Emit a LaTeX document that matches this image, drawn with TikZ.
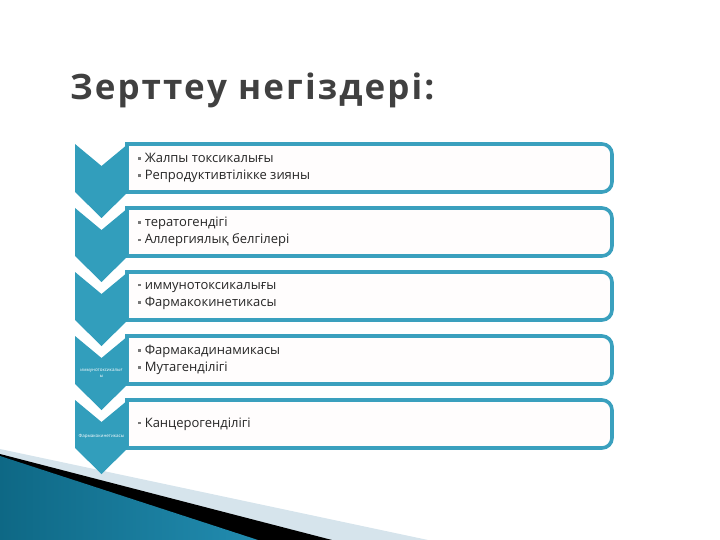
\documentclass[tikz,border=0pt]{standalone}
\usepackage{fontspec}
\setmainfont{Open Sans}
\newfontfamily\titlefont[LetterSpace=6]{Open Sans}
\definecolor{teal1}{RGB}{50,158,188}
\definecolor{teal2}{RGB}{58,160,190}
\definecolor{titlegray}{RGB}{64,64,64}
\definecolor{bulgray}{RGB}{120,120,120}
\definecolor{boxfill}{RGB}{255,253,253}
\definecolor{greyband}{RGB}{214,228,236}
\definecolor{bluedark}{RGB}{14,104,133}
\definecolor{bluemid}{RGB}{76,176,212}
\definecolor{blueright}{RGB}{34,140,176}
\newcommand\bul{\textcolor{bulgray}{\rule[2.8pt]{2.6pt}{2.6pt}}\hspace{4pt}}
\tikzset{
  chev/.style={fill=teal1},
  itembox/.style={draw=teal2, line width=3.6pt, fill=boxfill},
  itemtext/.style={anchor=west, align=left, inner sep=0pt, text=black!85,
    font=\fontsize{13}{17.5}\selectfont},
  chevtext/.style={text=white, align=center, inner sep=0pt,
    font=\fontsize{4.5}{6}\selectfont}
}
\begin{document}
\begin{tikzpicture}[x=1pt,y=-1pt]
\useasboundingbox (0,0) rectangle (720,540);
% bottom decoration
\fill[greyband] (0,449) -- (428,540) -- (0,540) -- cycle;
\fill[black] (0,454) -- (332,540) -- (0,540) -- cycle;
\shade[left color=bluedark, middle color=bluemid, right color=blueright]
  (0,456) -- (258,540) -- (0,540) -- cycle;
% title
\node[anchor=base west, inner sep=0pt, text=titlegray,
  font=\fontsize{35}{40}\selectfont\titlefont\bfseries] (title) at (70,100) {Зерттеу негіздері:};
% boxes
\foreach \T in {144,208,272,336,400}{
  \draw[itembox] (127,\T) -- (602,\T) .. controls (607.5,\T) and (612,\T+4.5) ..
    (612,\T+10) -- (612,\T+38) .. controls (612,\T+43.5) and (607.5,\T+48) ..
    (602,\T+48) -- (127,\T+48) -- cycle;
  \fill[chev] (75,\T) -- (101.5,\T+22) -- (128,\T) -- (128,\T+48) --
    (101.5,\T+74) -- (75,\T+48) -- cycle;
}
% texts
\node[itemtext] (b1) at (138,168) {\bul Жалпы токсикалығы\\\bul Репродуктивтілікке зияны};
\node[itemtext] (b2) at (138,232) {\bul тератогендігі\\\bul Аллергиялық белгілері};
\node[itemtext] (b3) at (138,296) {\bul иммунотоксикалығы\\\bul Фармакокинетикасы};
\node[itemtext] (b4) at (138,360) {\bul Фармакадинамикасы\\\bul Мутагенділігі};
\node[itemtext] (b5) at (138,424) {\bul Канцерогенділігі};
\node[chevtext] (c4) at (101.5,373) {иммунотоксикалығ\\ы};
\node[chevtext] (c5) at (101.5,436) {Фармакокинетикасы};
\end{tikzpicture}
\end{document}
